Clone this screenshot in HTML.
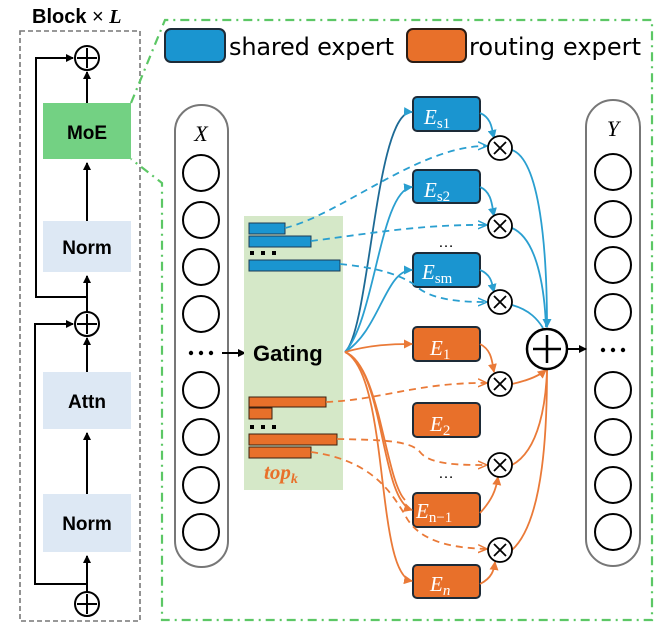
<!DOCTYPE html>
<html><head><meta charset="utf-8"><style>body{margin:0;background:#fff}svg{display:block}</style></head><body>
<svg width="656" height="632" viewBox="0 0 656 632" xmlns="http://www.w3.org/2000/svg" font-family="Liberation Sans, sans-serif">
<defs>
<marker id="ak" markerWidth="8" markerHeight="8" refX="7" refY="4" orient="auto" markerUnits="userSpaceOnUse"><path d="M0,0L8,4L0,8z" fill="#000"/></marker>
<marker id="ab" markerWidth="9" markerHeight="9" refX="8" refY="4.5" orient="auto" markerUnits="userSpaceOnUse"><path d="M0,0L9,4.5L0,9z" fill="#2a9fd0"/></marker>
<marker id="ao" markerWidth="9" markerHeight="9" refX="8" refY="4.5" orient="auto" markerUnits="userSpaceOnUse"><path d="M0,0L9,4.5L0,9z" fill="#ea7a38"/></marker>
<marker id="abo" markerWidth="10" markerHeight="10" refX="9" refY="5" orient="auto" markerUnits="userSpaceOnUse"><path d="M0,1L9,5L0,9" fill="none" stroke="#2a9fd0" stroke-width="1.5"/></marker>
<marker id="aoo" markerWidth="10" markerHeight="10" refX="9" refY="5" orient="auto" markerUnits="userSpaceOnUse"><path d="M0,1L9,5L0,9" fill="none" stroke="#ea7a38" stroke-width="1.5"/></marker>
</defs>
<!-- left block -->
<text x="32" y="23" font-size="20" font-weight="bold">Block <tspan font-weight="normal">×</tspan> <tspan font-family="Liberation Serif" font-style="italic">L</tspan></text>
<rect x="20" y="31" width="120" height="590" fill="none" stroke="#777" stroke-width="1.6" stroke-dasharray="5,3"/>
<rect x="43" y="103" width="88" height="56" fill="#73d183"/>
<text x="87" y="139" font-size="19" font-weight="bold" text-anchor="middle">MoE</text>
<rect x="43" y="221" width="88" height="51" fill="#dde8f4"/>
<text x="87" y="254" font-size="19" font-weight="bold" text-anchor="middle">Norm</text>
<rect x="43" y="372" width="88" height="57" fill="#dde8f4"/>
<text x="87" y="408" font-size="19" font-weight="bold" text-anchor="middle">Attn</text>
<rect x="43" y="494" width="88" height="58" fill="#dde8f4"/>
<text x="87" y="530" font-size="19" font-weight="bold" text-anchor="middle">Norm</text>
<g stroke="#000" stroke-width="2" fill="none">
<circle cx="87" cy="58" r="12" fill="#fff"/><path d="M87,48V68M77,58H97"/>
<circle cx="87" cy="324" r="12" fill="#fff"/><path d="M87,314V334M77,324H97"/>
<circle cx="87" cy="604" r="12" fill="#fff"/><path d="M87,594V614M77,604H97"/>
<path d="M87,103V72" marker-end="url(#ak)"/>
<path d="M87,221V163" marker-end="url(#ak)"/>
<path d="M87,312V276" marker-end="url(#ak)"/>
<path d="M87,372V338" marker-end="url(#ak)"/>
<path d="M87,494V433" marker-end="url(#ak)"/>
<path d="M87,592V556" marker-end="url(#ak)"/>
<path d="M87,297H36V58H73" marker-end="url(#ak)"/>
<path d="M87,584H35V324H73" marker-end="url(#ak)"/>
</g>
<!-- green dash-dot frame -->
<path d="M131,103L165,20H652V620H162V183L131,159" fill="none" stroke="#5cc765" stroke-width="2.2" stroke-dasharray="9,5,2,5"/>
<!-- legend -->
<rect x="165" y="29" width="60" height="33" rx="6" fill="#1a95d0" stroke="#1d2b38" stroke-width="2"/>
<text x="229" y="55" font-size="24" font-family="DejaVu Sans, sans-serif" textLength="165">shared expert</text>
<rect x="407" y="29" width="59" height="33" rx="6" fill="#e8702a" stroke="#2a1c14" stroke-width="2"/>
<text x="469" y="55" font-size="24" font-family="DejaVu Sans, sans-serif" textLength="172">routing expert</text>
<!-- X pill -->
<rect x="175" y="105" width="53" height="462" rx="26" fill="none" stroke="#777" stroke-width="2"/>
<text x="201" y="141" font-size="22" font-style="italic" font-family="Liberation Serif" text-anchor="middle">X</text>
<g fill="none" stroke="#000" stroke-width="2">
<circle cx="201" cy="173" r="18"/><circle cx="201" cy="220" r="18"/><circle cx="201" cy="267" r="18"/><circle cx="201" cy="314" r="18"/>
<circle cx="201" cy="390" r="18"/><circle cx="201" cy="437" r="18"/><circle cx="201" cy="485" r="18"/><circle cx="201" cy="532" r="18"/>
</g>
<g fill="#000"><circle cx="191" cy="353" r="2.2"/><circle cx="201" cy="353" r="2.2"/><circle cx="211" cy="353" r="2.2"/></g>
<path d="M222,353H245" stroke="#000" stroke-width="2" marker-end="url(#ak)"/>
<!-- Y pill -->
<rect x="586" y="100" width="54" height="466" rx="27" fill="none" stroke="#777" stroke-width="2"/>
<text x="613" y="136" font-size="22" font-style="italic" font-family="Liberation Serif" text-anchor="middle">Y</text>
<g fill="none" stroke="#000" stroke-width="2">
<circle cx="613" cy="172" r="18"/><circle cx="613" cy="219" r="18"/><circle cx="613" cy="265" r="18"/><circle cx="613" cy="312" r="18"/>
<circle cx="613" cy="390" r="18"/><circle cx="613" cy="437" r="18"/><circle cx="613" cy="485" r="18"/><circle cx="613" cy="532" r="18"/>
</g>
<g fill="#000"><circle cx="603" cy="350" r="2.2"/><circle cx="613" cy="350" r="2.2"/><circle cx="623" cy="350" r="2.2"/></g>
<!-- gating -->
<rect x="244" y="216" width="99" height="274" fill="#d5e8c8"/>
<text x="253" y="361" font-size="22" font-weight="bold">Gating</text>
<g fill="#1a95d0" stroke="#1d3a55" stroke-width="1"><rect x="249" y="223" width="36" height="11"/><rect x="249" y="236" width="62" height="11"/><rect x="249" y="260" width="91" height="11"/></g>
<g fill="#000"><rect x="250" y="251" width="4" height="4"/><rect x="261" y="251" width="4" height="4"/><rect x="272" y="251" width="4" height="4"/></g>
<g fill="#e8702a" stroke="#3a2010" stroke-width="1"><rect x="249" y="397" width="77" height="10"/><rect x="249" y="408" width="23" height="11"/><rect x="249" y="434" width="88" height="11"/><rect x="249" y="447" width="62" height="11"/></g>
<g fill="#000"><rect x="250" y="425" width="4" height="4"/><rect x="261" y="425" width="4" height="4"/><rect x="272" y="425" width="4" height="4"/></g>
<text x="264" y="479" font-size="21" font-weight="bold" font-style="italic" font-family="Liberation Serif" fill="#e8702a">top<tspan font-size="14" dy="4">k</tspan></text>
<!-- experts -->
<g stroke="#1d2b38" stroke-width="2">
<rect x="413" y="97" width="67" height="34" rx="4" fill="#1a95d0"/>
<rect x="413" y="170" width="67" height="33" rx="4" fill="#1a95d0"/>
<rect x="413" y="253" width="67" height="34" rx="4" fill="#1a95d0"/>
<rect x="413" y="327" width="67" height="34" rx="4" fill="#e8702a"/>
<rect x="413" y="403" width="67" height="34" rx="4" fill="#e8702a"/>
<rect x="413" y="493" width="67" height="34" rx="4" fill="#e8702a"/>
<rect x="413" y="565" width="67" height="33" rx="4" fill="#e8702a"/>
</g>
<g fill="#fff" font-family="Liberation Serif" font-style="italic" font-size="21">
<text x="424" y="124">E<tspan font-size="15" dy="4" font-style="normal">s1</tspan></text>
<text x="424" y="197">E<tspan font-size="15" dy="4" font-style="normal">s2</tspan></text>
<text x="422" y="279">E<tspan font-size="15" dy="4" font-style="normal">sm</tspan></text>
<text x="430" y="355">E<tspan font-size="15" dy="4" font-style="normal">1</tspan></text>
<text x="430" y="431">E<tspan font-size="15" dy="4" font-style="normal">2</tspan></text>
<text x="416" y="518">E<tspan font-size="15" dy="4" font-style="normal">n−1</tspan></text>
<text x="430" y="591">E<tspan font-size="15" dy="4">n</tspan></text>
</g>
<text x="446" y="247" font-size="16" text-anchor="middle">…</text>
<text x="446" y="478" font-size="16" text-anchor="middle">…</text>
<!-- blue connectors -->
<g fill="none" stroke="#2a9fd0" stroke-width="1.8">
<path d="M345,352C370,330 375,110 412,112" stroke="#1d6a95" marker-end="url(#ab)"/>
<path d="M345,352C375,320 380,190 412,187" marker-end="url(#ab)"/>
<path d="M345,352C380,330 385,270 412,270" marker-end="url(#ab)"/>
<path d="M480,113C492,118 492,130 494,138" marker-end="url(#ab)"/>
<path d="M480,187C492,192 492,206 494,216" marker-end="url(#ab)"/>
<path d="M480,270C492,275 492,284 494,292" marker-end="url(#ab)"/>
<path d="M512,150C540,160 547,250 547,327" marker-end="url(#ab)"/>
<path d="M512,228C540,240 545,300 546,327"/>
<path d="M512,305C530,310 538,320 543,328"/>
</g>
<g fill="none" stroke="#2a9fd0" stroke-width="1.8" stroke-dasharray="7,5">
<path d="M285,228C340,215 420,145 487,146" marker-end="url(#abo)"/>
<path d="M311,241C360,235 420,224 487,225" marker-end="url(#abo)"/>
<path d="M340,264C380,268 400,275 415,285C430,300 460,302 487,302" marker-end="url(#abo)"/>
</g>
<!-- orange connectors -->
<g fill="none" stroke="#ea7a38" stroke-width="1.8">
<path d="M345,352C370,345 390,344 412,344" marker-end="url(#ao)"/>
<path d="M345,352C385,370 380,500 412,510" marker-end="url(#ao)"/>
<path d="M345,352C390,375 375,575 412,581" marker-end="url(#ao)"/>
<path d="M345,352C380,365 385,480 405,500"/>
<path d="M480,344C492,350 492,362 494,372" marker-end="url(#ao)"/>
<path d="M480,513C492,500 496,490 498,477" marker-end="url(#ao)"/>
<path d="M480,584C492,578 494,570 495,562" marker-end="url(#ao)"/>
<path d="M512,384C530,380 540,375 546,370" marker-end="url(#ao)"/>
<path d="M512,465C540,450 546,400 547,370"/>
<path d="M512,550C545,520 547,420 547,370"/>
</g>
<g fill="none" stroke="#ea7a38" stroke-width="1.8" stroke-dasharray="7,5">
<path d="M326,402C380,400 420,382 487,383" marker-end="url(#aoo)"/>
<path d="M337,439C380,440 410,440 420,452C430,465 460,465 487,465" marker-end="url(#aoo)"/>
<path d="M311,452C370,460 390,490 405,515C420,545 460,548 487,549" marker-end="url(#aoo)"/>
</g>
<!-- multipliers -->
<g fill="#fff" stroke="#000" stroke-width="1.8">
<circle cx="500" cy="148" r="12"/><circle cx="500" cy="226" r="12"/><circle cx="500" cy="302" r="12"/>
<circle cx="500" cy="384" r="12"/><circle cx="500" cy="465" r="12"/><circle cx="500" cy="550" r="12"/>
</g>
<g stroke="#000" stroke-width="1.8">
<path d="M494,142l12,12M506,142l-12,12"/><path d="M494,220l12,12M506,220l-12,12"/><path d="M494,296l12,12M506,296l-12,12"/>
<path d="M494,378l12,12M506,378l-12,12"/><path d="M494,459l12,12M506,459l-12,12"/><path d="M494,544l12,12M506,544l-12,12"/>
</g>
<circle cx="547" cy="349" r="20" fill="#fff" stroke="#000" stroke-width="2.5"/>
<path d="M547,335V363M533,349H561" stroke="#000" stroke-width="2.5"/>
<path d="M567,349H586" stroke="#000" stroke-width="2" marker-end="url(#ak)"/>
</svg>
</body></html>
